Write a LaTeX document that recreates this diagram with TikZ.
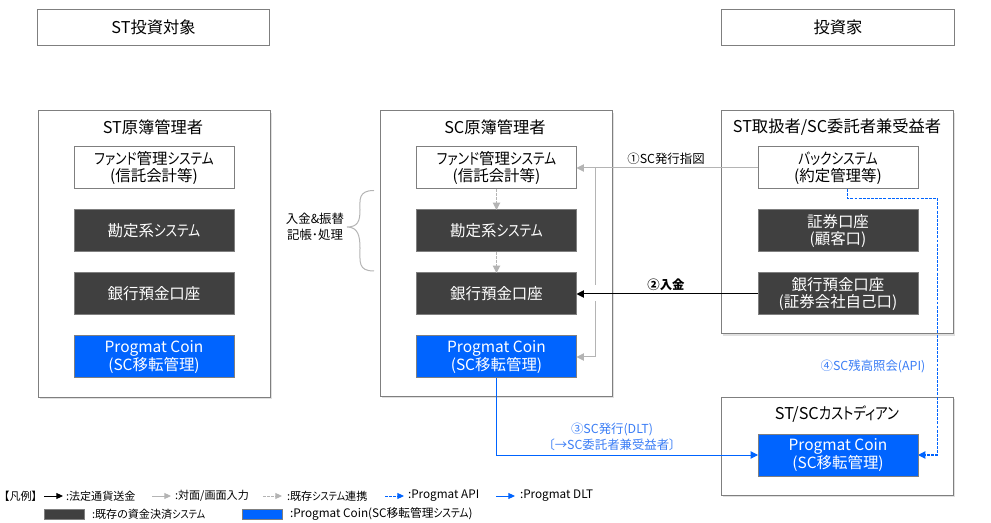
\documentclass[tikz,border=0pt]{standalone}
\usepackage{fontspec}
\setmainfont[RawFeature={+palt}]{Noto Sans CJK JP}
\newfontfamily\kn[FakeStretch=0.82,RawFeature={+palt}]{Noto Sans CJK JP}
\usetikzlibrary{arrows.meta,shadows}
\definecolor{dark}{HTML}{404040}
\definecolor{pblue}{HTML}{0064FF}
\definecolor{lblue}{HTML}{3A7DF5}
\definecolor{edge}{HTML}{7F7F7F}
\definecolor{lgray}{HTML}{B4B4B4}
\tikzset{
  x=0.75pt,y=-0.75pt,
  every node/.style={inner sep=0pt,outer sep=0pt,align=center},
  base/.style={font=\fontsize{11.6}{12.8}\selectfont},
  title/.style={font=\fontsize{12.2}{13}\selectfont},
  topbox/.style={title,draw=edge,line width=0.75pt,fill=white,minimum width=174.5pt,minimum height=26.5pt},
  group/.style={draw=edge,line width=0.75pt,fill=white,minimum width=174.5pt,
     drop shadow={shadow xshift=1.2pt,shadow yshift=-1.2pt,opacity=.12,fill=black}},
  sysw/.style={base,draw=edge,line width=0.75pt,fill=white,minimum width=120pt,minimum height=31.5pt},
  sysd/.style={base,draw=edge,line width=0.75pt,fill=dark,text=white,minimum width=120pt,minimum height=31.5pt},
  sysb/.style={base,draw=edge,line width=0.75pt,fill=pblue,text=white,minimum width=120pt,minimum height=31.5pt},
  lab/.style={font=\fontsize{9.3}{11.8}\selectfont},
  tip/.style={-{Triangle[length=5.5pt,width=5.5pt]}},
  blk/.style={tip,draw=black,line width=0.75pt},
  gry/.style={tip,draw=lgray,line width=0.75pt},
  gryd/.style={tip,draw=lgray,line width=0.75pt,dash pattern=on 2pt off 1pt},
  blu/.style={tip,draw=pblue,line width=0.75pt},
  blud/.style={tip,draw=pblue,line width=0.85pt,dash pattern=on 2.2pt off 0.9pt},
  leg/.style={font=\fontsize{8.3}{9}\selectfont,anchor=west},
  legl/.style={font=\fontsize{8.8}{9}\selectfont,anchor=west},
  ltip/.style={-{Triangle[length=5pt,width=4.5pt]}},
  swatch/.style={draw=edge,line width=0.5pt,minimum width=30pt,minimum height=7.5pt},
}
\begin{document}
\begin{tikzpicture}
\useasboundingbox (0,0) rectangle (991,523);
% header boxes
\node[topbox] (htarget) at (153.5,27.5) {ST投資対象};
\node[topbox] (hinv) at (838,27.5) {投資家};
% groups
\node[group,minimum height=214.5pt] (gl) at (154.5,254) {};
\node[group,minimum height=213.75pt] (gm) at (496.5,253.5) {};
\node[group,minimum height=167.25pt] (gr) at (837.5,222.5) {};
\node[group,minimum height=73.5pt] (gc) at (837.5,446) {};
\node[title] (tl) at (153,127) {ST原簿管理者};
\node[title] (tm) at (495,127) {SC原簿管理者};
\node[title] (tr) at (837,127) {ST取扱者/SC委託者兼受益者};
\node[title] (tc) at (837,414) {ST/SC{\kn カストディアン}};
% left column
\node[sysw] (lfund) at (154,168) {{\kn ファンド}管理{\kn システム}\\(信託会計等)};
\node[sysd] (lacc) at (154,231) {勘定系{\kn システム}};
\node[sysd] (lbank) at (154,294) {銀行預金口座};
\node[sysb] (lcoin) at (154,357) {Progmat Coin\\(SC移転管理)};
% middle column
\node[sysw] (mfund) at (496.5,168) {{\kn ファンド}管理{\kn システム}\\(信託会計等)};
\node[sysd] (macc) at (496.5,231) {勘定系{\kn システム}};
\node[sysd] (mbank) at (496.5,294) {銀行預金口座};
\node[sysb] (mcoin) at (496.5,357) {Progmat Coin\\(SC移転管理)};
% right column
\node[sysw] (back) at (838,168) {{\kn バックシステム}\\(約定管理等)};
\node[sysd] (sec) at (838,231) {証券口座\\(顧客口)};
\node[sysd] (rbank) at (838,294) {銀行預金口座\\(証券会社自己口)};
\node[sysb] (ccoin) at (838,455) {Progmat Coin\\(SC移転管理)};
% helper points
\coordinate (jt) at (595,168);
\coordinate (jg) at (595,285);
\coordinate (jh) at (595,301.5);
\coordinate (jb) at (595,357);
\coordinate (bd) at (496.5,455);
\coordinate (ax) at (847.5,198.5);
\coordinate (ar) at (937.5,198.5);
% connectors
\draw[gry] (back.west) -- (mfund.east);
\draw[draw=lgray,line width=0.75pt] (jt) -- (jg);
\draw[gry] (jh) -- (jb) -- (mcoin.east);
\draw[gryd] (mfund.south) -- (macc.north);
\draw[gryd] (macc.south) -- (mbank.north);
\draw[blk] (rbank.west) -- (mbank.east);
\draw[blu] (mcoin.south) -- (bd) -- (ccoin.west);
\draw[blud] (back.south -| ax) -- (ax) -- (ar) -- (ar |- ccoin.east) -- (ccoin.east);
% labels
\node[lab] (l1) at (666,158.5) {①SC発行指図};
\node[lab,font=\fontsize{9.3}{11.8}\selectfont\bfseries] (l2) at (666,284.5) {②入金};
\node[lab,text=lblue] (l3) at (612,437) {③SC発行(DLT)\\〔→SC委託者兼受益者〕};
\node[lab,text=lblue] (l4) at (873,366.5) {④SC残高照会(API)};
\node[lab,font=\fontsize{9.3}{12}\selectfont] (lbr) at (315,227) {入金\&振替\\記帳･処理};
\draw[draw=lgray,line width=0.75pt] (374,190.5) .. controls (358,190.5) and (360,200) .. (360,210)
   .. controls (360,221) and (358,227) .. (347,227)
   .. controls (358,227) and (360,236) .. (360,248)
   .. controls (360,262) and (358,271) .. (374,271);
% legend
\node[leg] (lg0) at (4,496) {【凡例】};
\coordinate (a1) at (44,496); \coordinate (a2) at (63,496);
\draw[ltip,draw=black,line width=0.75pt] (a1) -- (a2);
\node[leg] (lg1) at (66,496) {:法定通貨送金};
\coordinate (b1) at (152,496); \coordinate (b2) at (171,496);
\draw[ltip,draw=lgray,line width=0.75pt] (b1) -- (b2);
\node[leg] (lg2) at (175,496) {:対面/画面入力};
\coordinate (c1) at (263,496); \coordinate (c2) at (282,496);
\draw[ltip,draw=lgray,line width=0.75pt,dash pattern=on 2pt off 1pt] (c1) -- (c2);
\node[leg] (lg3) at (287,496) {:既存{\kn システム}連携};
\coordinate (d1) at (385,496); \coordinate (d2) at (404,496);
\draw[ltip,draw=pblue,line width=0.75pt,dash pattern=on 2pt off 1pt] (d1) -- (d2);
\node[legl] (lg4) at (408,496) {:Progmat API};
\coordinate (e1) at (496,496); \coordinate (e2) at (515,496);
\draw[ltip,draw=pblue,line width=0.75pt] (e1) -- (e2);
\node[legl] (lg5) at (520,496) {:Progmat DLT};
\node[swatch,fill=dark] (s1) at (64,514) {};
\node[leg] (lg6) at (92,514) {:既存の資金決済{\kn システム}};
\node[swatch,fill=pblue] (s2) at (262,514) {};
\node[legl] (lg7) at (290,514) {:Progmat Coin(SC移転管理{\kn システム})};
\end{tikzpicture}
\end{document}
